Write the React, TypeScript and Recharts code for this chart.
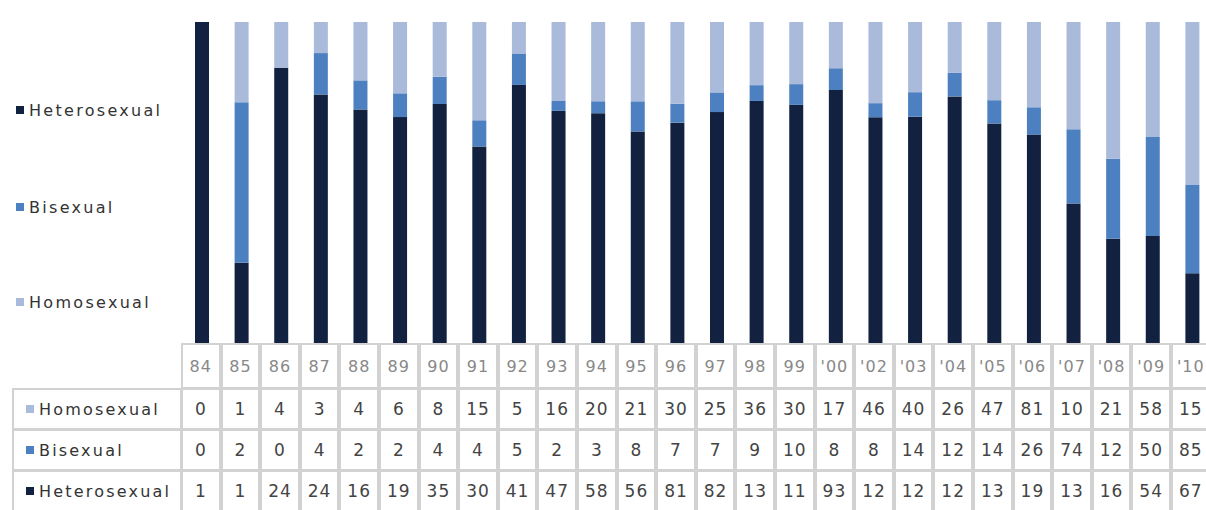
import React from "react"
import { BarChart, Bar, XAxis, YAxis } from "recharts"

const years = [
  "84", "85", "86", "87", "88", "89", "90", "91", "92", "93", "94", "95", "96",
  "97", "98", "99", "'00", "'02", "'03", "'04", "'05", "'06", "'07", "'08", "'09", "'10",
]
const homosexual = [0, 1, 4, 3, 4, 6, 8, 15, 5, 16, 20, 21, 30, 25, 36, 30, 17, 46, 40, 26, 47, 81, 107, 215, 58, 156]
const bisexual = [0, 2, 0, 4, 2, 2, 4, 4, 5, 2, 3, 8, 7, 7, 9, 10, 8, 8, 14, 12, 14, 26, 74, 126, 50, 85]
const heterosexual = [1, 1, 24, 24, 16, 19, 35, 30, 41, 47, 58, 56, 81, 82, 138, 115, 93, 128, 129, 126, 132, 198, 139, 164, 54, 67]

const COLORS = { het: "#11213f", bi: "#4d80c0", homo: "#a9badb" }

const series = [
  { key: "het", name: "Heterosexual", values: heterosexual, color: COLORS.het },
  { key: "bi", name: "Bisexual", values: bisexual, color: COLORS.bi },
  { key: "homo", name: "Homosexual", values: homosexual, color: COLORS.homo },
]

const data = years.map((y, i) => ({
  year: y,
  het: heterosexual[i],
  bi: bisexual[i],
  homo: homosexual[i],
}))

const COL_W = 39.6
const TABLE_LEFT = 182
const BORDER = "2px solid #d2d2d2"
const FONT = "'DejaVu Sans', Verdana, sans-serif"

// table cells are too narrow for 3-digit numbers, they get cut to two
const cellText = (v: number) => String(v).slice(0, 2)

const tableRows = [
  { name: "Homosexual", values: homosexual, color: COLORS.homo, top: 388, h: 42 },
  { name: "Bisexual", values: bisexual, color: COLORS.bi, top: 429, h: 42 },
  { name: "Heterosexual", values: heterosexual, color: COLORS.het, top: 470, h: 42 },
]

const legendItems = [
  { ...series[0], y: 110 },
  { ...series[1], y: 207 },
  { ...series[2], y: 302 },
]

export default function App() {
  return (
    <div style={{
      position: "absolute", left: 0, top: 0, width: 1206, height: 510,
      overflow: "hidden", background: "#fff", fontFamily: FONT,
    }}>
      {legendItems.map((l) => (
        <div key={l.key} style={{
          position: "absolute", left: 16, top: l.y - 10, height: 20,
          display: "flex", alignItems: "center", gap: 5,
          fontSize: 16, letterSpacing: 2.3, color: "#333",
        }}>
          <span style={{ width: 8, height: 8, background: l.color, display: "inline-block" }} />
          {l.name}
        </div>
      ))}

      <div style={{ position: "absolute", left: TABLE_LEFT, top: 0 }}>
        <BarChart
          width={Math.round(COL_W * years.length)}
          height={343}
          data={data}
          stackOffset="expand"
          barSize={14}
          margin={{ top: 22, right: 0, left: 0, bottom: 0 }}
        >
          <XAxis dataKey="year" hide />
          <YAxis hide domain={[0, 1]} />
          {series.map((s) => (
            <Bar key={s.key} dataKey={s.key} name={s.name} stackId="a" fill={s.color} isAnimationActive={false} />
          ))}
        </BarChart>
      </div>

      {years.map((y, i) => (
        <div key={y} style={{
          position: "absolute", left: TABLE_LEFT + i * COL_W, top: 343,
          width: COL_W, height: 46, boxSizing: "border-box", border: BORDER,
          marginLeft: -1, display: "flex", alignItems: "center", justifyContent: "center",
          fontSize: 16, letterSpacing: 1, color: "#888",
        }}>
          {y}
        </div>
      ))}

      {tableRows.map((r) => (
        <React.Fragment key={r.name}>
          <div style={{
            position: "absolute", left: 12, top: r.top, width: TABLE_LEFT - 12, height: r.h,
            boxSizing: "border-box", border: BORDER, display: "flex", alignItems: "center",
            paddingLeft: 12, gap: 5, fontSize: 16, letterSpacing: 2.2, color: "#333",
          }}>
            <span style={{ width: 8, height: 8, background: r.color, display: "inline-block" }} />
            {r.name}
          </div>
          {r.values.map((v, i) => (
            <div key={i} style={{
              position: "absolute", left: TABLE_LEFT + i * COL_W, top: r.top,
              width: COL_W, height: r.h, boxSizing: "border-box", border: BORDER,
              marginLeft: -1, display: "flex", alignItems: "center", justifyContent: "center",
              fontSize: 17, letterSpacing: 1, color: "#444",
            }}>
              {cellText(v)}
            </div>
          ))}
        </React.Fragment>
      ))}
    </div>
  )
}
